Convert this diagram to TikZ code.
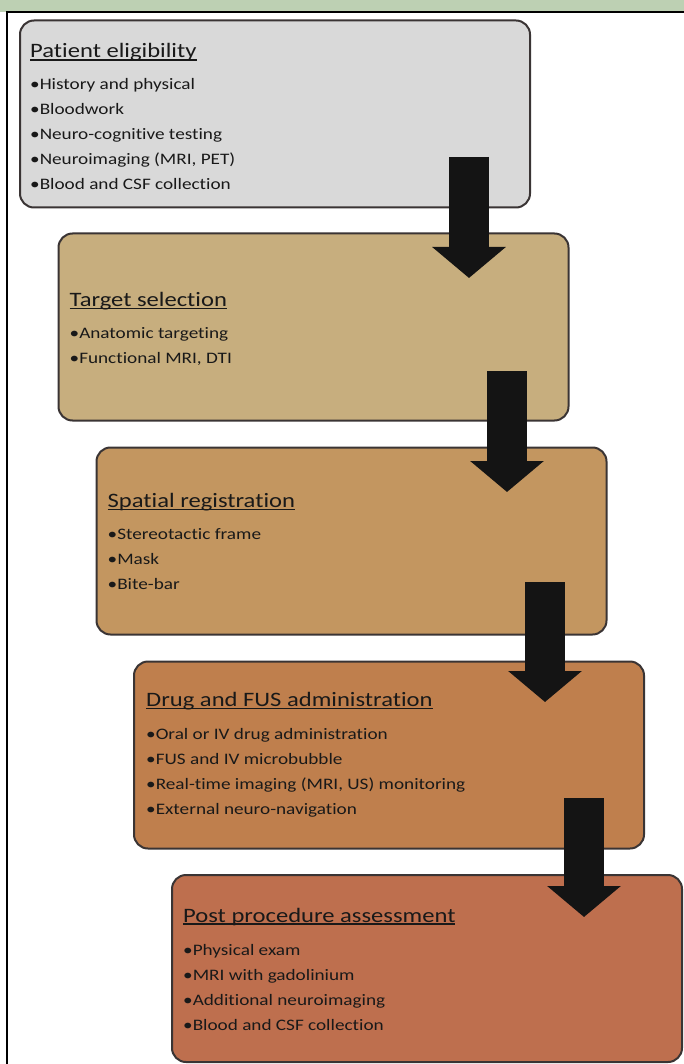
\documentclass[tikz,border=0pt]{standalone}
\usepackage{fontspec}
\newfontfamily\boxfont[FakeStretch=1.2, Ligatures=NoCommon]{Carlito}
\usetikzlibrary{positioning,arrows.meta}

\definecolor{bandgreen}{HTML}{BDD0B3}
\definecolor{frameline}{HTML}{3A3434}
\definecolor{stepgray}{HTML}{D9D9D9}
\definecolor{steptan}{HTML}{C7AE7E}
\definecolor{stepochre}{HTML}{C39660}
\definecolor{stepcopper}{HTML}{BF7F4D}
\definecolor{steprust}{HTML}{BE6F4E}

\newcommand{\steptitle}{\fontsize{20.5}{25}\selectfont}
\newcommand{\ulbox}[1]{\setbox0\hbox{#1}\rlap{\rule[-2.6pt]{\wd0}{1.3pt}}\box0}

\tikzset{
	stepbox/.style={rectangle, rounded corners=14pt, draw=frameline, line width=2pt, minimum width=510pt, minimum height=187pt, inner sep=0pt},
	steptext/.style={align=left, inner sep=0pt, text=black!90, font=\boxfont\fontsize{16}{25}\selectfont},
	blockarrow/.style={line width=40pt, black!92, -{Triangle[width=72pt,length=31pt]}}
}

\begin{document}
\begin{tikzpicture}[x=1pt, y=-1pt]
				\useasboundingbox (0, 0) rectangle (684, 1064);
				\fill[bandgreen] (0, 0) rectangle (684, 12);
				\draw[black, line width=1.2pt] (7, 1064) -- (7, 12) -- (684, 12);

				\node[stepbox, fill=stepgray] (box1) at (275.0, 114.0) {};
				\node[stepbox, fill=steptan] (box2) at (313.5, 327.0) {};
				\node[stepbox, fill=stepochre] (box3) at (351.5, 541.0) {};
				\node[stepbox, fill=stepcopper] (box4) at (389.0, 755.0) {};
				\node[stepbox, fill=steprust] (box5) at (427.0, 968.5) {};

				\coordinate (arr1s) at (469, 157);
				\coordinate (arr1e) at (469, 278);
				\coordinate (arr2s) at (507, 371);
				\coordinate (arr2e) at (507, 492);
				\coordinate (arr3s) at (545, 582);
				\coordinate (arr3e) at (545, 702);
				\coordinate (arr4s) at (584, 798);
				\coordinate (arr4e) at (584, 917);
				\draw[blockarrow] (arr1s) -- (arr1e);
				\draw[blockarrow] (arr2s) -- (arr2e);
				\draw[blockarrow] (arr3s) -- (arr3e);
				\draw[blockarrow] (arr4s) -- (arr4e);

				\node[steptext, below right=24pt and 11pt of box1.north west] (text1) {{\steptitle\ulbox{Patient eligibility}}\\[7pt]
					•History and physical\\ •Bloodwork\\ •Neuro-cognitive testing\\ •Neuroimaging (MRI, PET)\\ •Blood and CSF collection};
				\node[steptext, below right=59.6pt and 12pt of box2.north west] (text2) {{\steptitle\ulbox{Target selection}}\\[7pt]
					•Anatomic targeting\\ •Functional MRI, DTI};
				\node[steptext, below right=46.6pt and 12pt of box3.north west] (text3) {{\steptitle\ulbox{Spatial registration}}\\[7pt]
					•Stereotactic frame\\ •Mask\\ •Bite-bar};
				\node[steptext, below right=31.6pt and 13pt of box4.north west] (text4) {{\steptitle\ulbox{Drug and FUS administration}}\\[8pt]
					•Oral or IV drug administration\\ •FUS and IV microbubble\\ •Real-time imaging (MRI, US) monitoring\\ •External neuro-navigation};
				\node[steptext, below right=33.6pt and 12pt of box5.north west] (text5) {{\steptitle\ulbox{Post procedure assessment}}\\[8pt]
					•Physical exam\\ •MRI with gadolinium\\ •Additional neuroimaging\\ •Blood and CSF collection};
\end{tikzpicture}
\end{document}
